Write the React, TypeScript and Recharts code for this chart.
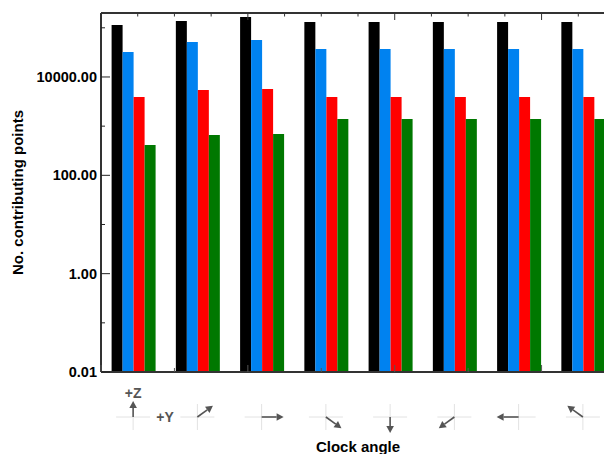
import { BarChart, Bar, XAxis, YAxis } from 'recharts';

// clock angle of each group (degrees from +Z toward +Y)
const clockAngles = [0, 45, 90, 135, 180, 225, 270, 315];
const blackValues = [114000, 137000, 166000, 131000, 131000, 131000, 131000, 131000];
const blueValues = [32200, 51400, 56500, 37000, 37000, 37000, 37000, 37000];
const redValues = [3920, 5430, 5690, 3920, 3920, 3920, 3920, 3920];
const greenValues = [413, 661, 692, 1400, 1400, 1400, 1400, 1400];

const yTicks = [0.01, 0.1, 1, 10, 100, 1000, 10000, 100000];
const frameTicks = [0, 0.5, 1, 1.5, 2, 2.5, 3, 3.5, 4, 4.5, 5, 5.5, 6, 6.5, 7, 7.5, 8];

const data = clockAngles.map((angle, i) => ({
  angle,
  black: blackValues[i],
  blue: blueValues[i],
  red: redValues[i],
  green: greenValues[i],
}));

const FONT = '"Liberation Sans", Arial, Helvetica, sans-serif';
const PLOT_LEFT = 101;
const PLOT_TOP = 13;
const PLOT_BOTTOM = 372;
const ICON_Y = 417;

const YTick = (props: any) => {
  const { y, payload } = props;
  const exp = Math.round(Math.log10(payload.value));
  const major = exp % 2 === 0;
  return (
    <g>
      <line x1={PLOT_LEFT} x2={PLOT_LEFT + (major ? 9 : 4)} y1={y} y2={y} stroke="#222" strokeWidth={1} />
      {major && (
        <text x={PLOT_LEFT - 4} y={y} dy={5} textAnchor="end" fontFamily={FONT} fontWeight="bold" fontSize={14.5} fill="#000">
          {payload.value.toFixed(2)}
        </text>
      )}
    </g>
  );
};

// tick marks along top and bottom frame
const FrameTick = (props: any) => {
  const { x, payload } = props;
  const v = payload.value;
  const major = v % 2 === 0;
  const whole = v % 1 === 0;
  return (
    <g>
      <line x1={x} x2={x} y1={PLOT_TOP} y2={PLOT_TOP + (major ? 7 : 3.5)} stroke="#333" strokeWidth={1} />
      {whole && (
        <line x1={x} x2={x} y1={PLOT_BOTTOM} y2={PLOT_BOTTOM - (major ? 7 : 4)} stroke="#555" strokeWidth={1} />
      )}
    </g>
  );
};

const ArrowTick = (props: any) => {
  const { x, payload, index } = props;
  const rad = (payload.value * Math.PI) / 180;
  const dx = Math.sin(rad);
  const dy = -Math.cos(rad);
  const tipX = x + 22 * dx;
  const tipY = ICON_Y + 16 * dy;
  const ang = Math.atan2(tipY - ICON_Y, tipX - x);
  const hl = 7;
  const hw = 3.8;
  const bx = tipX - hl * Math.cos(ang);
  const by = tipY - hl * Math.sin(ang);
  const px = -Math.sin(ang) * hw;
  const py = Math.cos(ang) * hw;
  return (
    <g>
      <line x1={x - 17} x2={x + 17} y1={ICON_Y} y2={ICON_Y} stroke="#e2e2e2" strokeWidth={1} />
      <line x1={x} x2={x} y1={ICON_Y - 13} y2={ICON_Y + 13} stroke="#e2e2e2" strokeWidth={1} />
      <line x1={x} y1={ICON_Y} x2={bx} y2={by} stroke="#555" strokeWidth={1.6} />
      <polygon points={`${tipX},${tipY} ${bx + px},${by + py} ${bx - px},${by - py}`} fill="#555" />
      {index === 0 && (
        <g fontFamily={FONT} fontWeight="bold" fontSize={14} fill="#555">
          <text x={x} y={398} textAnchor="middle">+Z</text>
          <text x={x + 32} y={422} textAnchor="middle">+Y</text>
        </g>
      )}
    </g>
  );
};

const YLabel = () => (
  <text
    x={23}
    y={(PLOT_TOP + PLOT_BOTTOM) / 2}
    transform={`rotate(-90, 23, ${(PLOT_TOP + PLOT_BOTTOM) / 2})`}
    textAnchor="middle"
    fontFamily={FONT}
    fontWeight="bold"
    fontSize={15}
    fill="#000"
  >
    No. contributing points
  </text>
);

export default function App() {
  return (
    <div style={{ position: 'absolute', left: 0, top: 0, width: 604, height: 454, overflow: 'hidden', background: '#fff' }}>
      <BarChart
        width={625}
        height={454}
        data={data}
        margin={{ top: PLOT_TOP - 1, right: 10, left: 0, bottom: 0 }}
        barCategoryGap="16.5%"
        barGap={0}
      >
        <XAxis
          xAxisId="frame"
          orientation="top"
          type="number"
          domain={[0, 8]}
          allowDataOverflow
          ticks={frameTicks}
          height={1}
          tickLine={false}
          axisLine={{ stroke: '#333', strokeWidth: 2 }}
          tick={<FrameTick />}
          interval={0}
        />
        <XAxis
          xAxisId="cat"
          dataKey="angle"
          height={82}
          tickLine={false}
          axisLine={{ stroke: '#333', strokeWidth: 2 }}
          tick={<ArrowTick />}
          interval={0}
          label={{ value: 'Clock angle', position: 'insideBottom', offset: 2, fontFamily: FONT, fontWeight: 'bold', fontSize: 15, fill: '#000' }}
        />
        <YAxis
          scale="log"
          type="number"
          domain={[0.01, 200000]}
          allowDataOverflow
          ticks={yTicks}
          width={101}
          tickLine={false}
          axisLine={{ stroke: '#333', strokeWidth: 2 }}
          tick={<YTick />}
          interval={0}
          label={<YLabel />}
        />
        <Bar xAxisId="cat" dataKey="black" fill="#000000" isAnimationActive={false} />
        <Bar xAxisId="cat" dataKey="blue" fill="#0082f0" isAnimationActive={false} />
        <Bar xAxisId="cat" dataKey="red" fill="#ff0000" isAnimationActive={false} />
        <Bar xAxisId="cat" dataKey="green" fill="#007800" isAnimationActive={false} />
      </BarChart>
    </div>
  );
}
